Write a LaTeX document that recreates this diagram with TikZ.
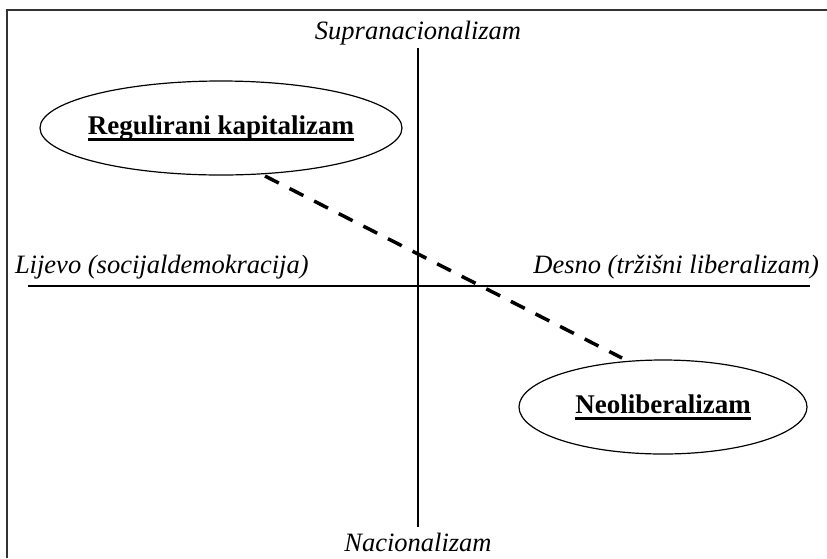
\documentclass[tikz,border=0pt]{standalone}
\usepackage{fontspec}
\setmainfont{Liberation Serif}
\usetikzlibrary{shapes.geometric}
\newcommand{\fatline}[1]{\setbox0\hbox{#1}\rlap{\rule[-6.5pt]{\wd0}{2.6pt}}\box0}
\begin{document}
\begin{tikzpicture}[x=1pt, y=-1pt, line width=2pt,
  axlabel/.style={font=\fontsize{26.5}{30}\selectfont\itshape, inner sep=0pt},
  idea/.style={draw, ellipse, line width=1.2pt, inner xsep=-12pt, font=\fontsize{27}{30}\selectfont\bfseries},
  link/.style={line width=3.5pt, dash pattern=on 15.5pt off 12.1pt}]
\useasboundingbox (0,0) rectangle (827,558);
\draw[line width=1.5pt, black!80] (7,558) -- (7,10) -- (827,10);
\coordinate (A_0_0) at (418,48);
\coordinate (A_0_1) at (418,527);
\coordinate (A_1_0) at (28,286);
\coordinate (A_1_1) at (810,286);
\draw (A_0_0) -- (A_0_1);
\draw (A_1_0) -- (A_1_1);
\node[axlabel, anchor=base] (L_0_0) at (418,39) {Supranacionalizam};
\node[axlabel, anchor=base] (L_0_1) at (418,551) {Nacionalizam};
\node[axlabel, anchor=base west] (L_1_0) at (14,273) {Lijevo (socijaldemokracija)};
\node[axlabel, anchor=base east] (L_1_1) at (820,273) {Desno (tržišni liberalizam)};
\node[idea, minimum width=362pt, minimum height=94pt] (E_0) at (221,128) {\fatline{Regulirani kapitalizam}};
\node[idea, minimum width=288pt, minimum height=94pt] (E_1) at (663,407) {\fatline{Neoliberalizam}};
\coordinate (D_0) at (265,176);
\coordinate (D_1) at (622,358);
\draw[link] (D_0) -- (D_1);
\end{tikzpicture}
\end{document}
